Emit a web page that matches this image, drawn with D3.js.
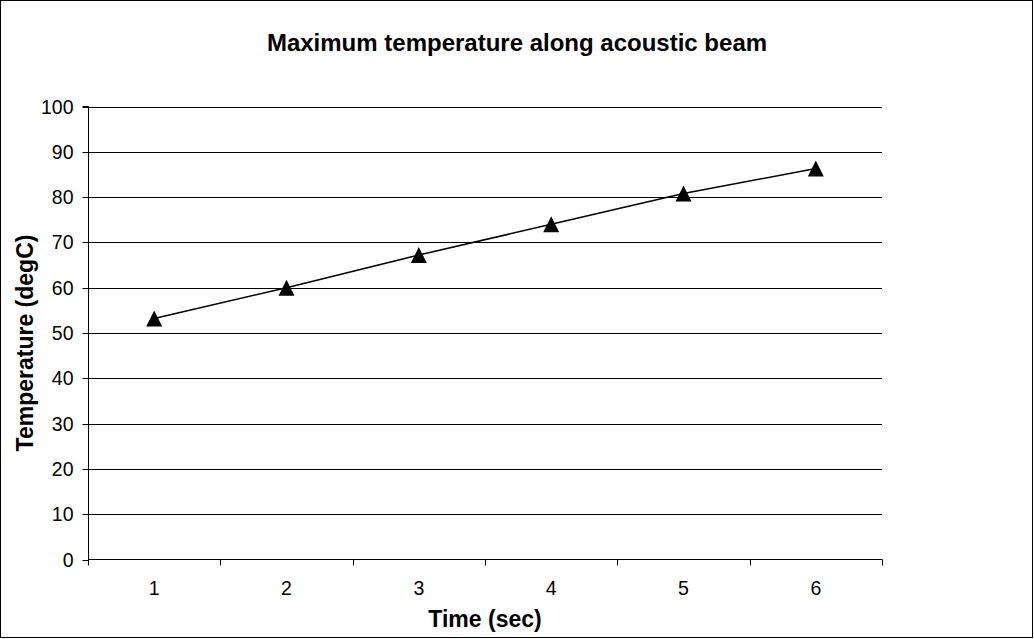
<!DOCTYPE html>
<html><head><meta charset="utf-8">
<script src="https://cdn.jsdelivr.net/npm/d3@7"></script>
<style>body{margin:0;background:#fff}svg{display:block;font-family:Arial,"Liberation Sans",sans-serif}</style>
</head><body>
<svg id="c" width="1034" height="639"></svg>
<script>
const categories = ["1","2","3","4","5","6"];
const temperature = [53.2, 60.0, 67.2, 74.0, 80.8, 86.3];
const yTicks = [0,10,20,30,40,50,60,70,80,90,100];
const titleText = "Maximum temperature along acoustic beam";
const xTitle = "Time (sec)";
const yTitle = "Temperature (degC)";

const FF = "Arial,'Liberation Sans',sans-serif";
const svg = d3.select("#c");
svg.append("rect").attr("x",0.5).attr("y",0.5).attr("width",1032).attr("height",637)
  .attr("fill","#fff").attr("stroke","#000").attr("stroke-width",1);

const L=88, R=882, T=106.5, B=559.5;
const x = d3.scaleBand().domain(categories).range([L,R]);
const y = d3.scaleLinear().domain([0,100]).range([B,T]);

// gridlines
svg.append("g").selectAll("line").data(yTicks.filter(d=>d>0)).join("line")
  .attr("x1",L).attr("x2",R).attr("y1",d=>Math.round(y(d))+0.5).attr("y2",d=>Math.round(y(d))+0.5)
  .attr("stroke","#000").attr("stroke-width",1);

// y axis
const ya = svg.append("g").attr("transform",`translate(${L+0.5},0)`)
  .call(d3.axisLeft(y).tickValues(yTicks).tickSize(6).tickPadding(9).tickFormat(d3.format("d")));
ya.attr("font-size",null).attr("font-family",null);
ya.selectAll("text").style("font-size","19.5px").style("font-family",FF).attr("fill","#000");
ya.selectAll("line,path").attr("stroke","#000");
ya.select(".domain").attr("d",`M-6,${T}H0V${B}`);
ya.selectAll(".tick").attr("transform",d=>`translate(0,${Math.round(y(d))+0.5})`);

// x axis
const xa = svg.append("g").attr("transform",`translate(0,${B})`);
xa.append("line").attr("x1",L).attr("x2",R+0.5).attr("y1",0).attr("y2",0).attr("stroke","#000");
const bounds = categories.map(c=>x(c)).concat([R]);
xa.selectAll("line.tk").data(bounds).join("line").attr("class","tk")
  .attr("x1",d=>Math.round(d)+0.5).attr("x2",d=>Math.round(d)+0.5).attr("y1",0).attr("y2",6).attr("stroke","#000");
xa.selectAll("text").data(categories).join("text")
  .attr("x",d=>x(d)+x.bandwidth()/2).attr("y",35).attr("text-anchor","middle")
  .style("font-size","19.5px").text(d=>d);

// line
const line = d3.line().x((d,i)=>x(categories[i])+x.bandwidth()/2).y(d=>y(d));
svg.append("path").datum(temperature).attr("d",line).attr("fill","none").attr("stroke","#000").attr("stroke-width",1.5);

// markers
const tri = {draw(ctx,size){const s=Math.sqrt(size);ctx.moveTo(0,-s/2);ctx.lineTo(s/2,s/2);ctx.lineTo(-s/2,s/2);ctx.closePath();}};
svg.append("g").selectAll("path").data(temperature).join("path")
  .attr("transform",(d,i)=>`translate(${x(categories[i])+x.bandwidth()/2},${y(d)})`)
  .attr("d",d3.symbol().type(tri).size(256)).attr("fill","#000");

// titles
svg.append("text").attr("x",517).attr("y",51).attr("text-anchor","middle")
  .style("font-size","24px").attr("font-weight","bold").text(titleText);
svg.append("text").attr("x",485).attr("y",627).attr("text-anchor","middle")
  .style("font-size","23px").attr("font-weight","bold").text(xTitle);
svg.append("text").attr("transform",`translate(33,343) rotate(-90)`).attr("text-anchor","middle")
  .style("font-size","23px").attr("font-weight","bold").text(yTitle);
</script>
</body></html>
